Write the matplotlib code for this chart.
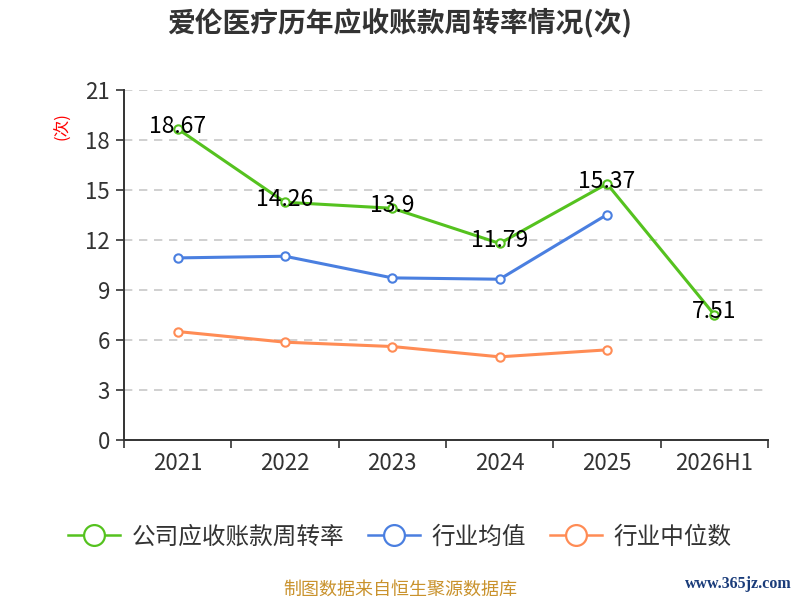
import matplotlib.pyplot as plt
from matplotlib.lines import Line2D
import numpy as np

plt.rcParams['font.family'] = ['Noto Sans CJK SC', 'DejaVu Sans']

# 数据
years = ['2021', '2022', '2023', '2024', '2025', '2026H1']
company = [18.67, 14.26, 13.9, 11.79, 15.37, 7.51]
ind_avg = [10.92, 11.02, 9.72, 9.64, 13.52]
ind_mid = [6.5, 5.86, 5.6, 4.98, 5.4]
yticks = [0, 3, 6, 9, 12, 15, 18, 21]

c_green = '#55c21f'
c_blue = '#4a7fe0'
c_orange = '#ff8c55'

fig = plt.figure(figsize=(8, 6), dpi=100)
ax = fig.add_axes([0.155, 0.267, 0.805, 0.583])

x = np.arange(len(years))
mk = dict(marker='o', markersize=6, markerfacecolor='white', markeredgewidth=1.5)
ax.plot(x, company, color=c_green, lw=2.2, markeredgecolor=c_green, zorder=3, **mk)
ax.plot(x[:len(ind_avg)], ind_avg, color=c_blue, lw=2.2, markeredgecolor=c_blue, zorder=3, **mk)
ax.plot(x[:len(ind_mid)], ind_mid, color=c_orange, lw=2.2, markeredgecolor=c_orange, zorder=3, **mk)

for xi, v in zip(x, company):
    ax.annotate(f'{v:g}', (xi, v), xytext=(0, 2), textcoords='offset points',
                ha='center', va='center', fontsize=16.5, color='black', zorder=4)

ax.set_xlim(-0.5, len(years) - 0.5)
ax.set_ylim(0, 21)
ax.set_yticks(yticks)
ax.set_xticks(x)
ax.set_xticklabels(years)
ax.set_xticks(np.arange(-0.5, len(years)), minor=True)
ax.tick_params(axis='x', which='major', length=0, pad=9, labelsize=16, labelcolor='#333333')
ax.tick_params(axis='x', which='minor', length=6, color='#333333', width=1.2)
ax.tick_params(axis='y', length=6, color='#333333', width=1.2, labelsize=16,
               labelcolor='#333333', pad=4)

ax.grid(axis='y', linestyle=(0, (5, 4)), color='#c8c8c8', lw=1.2)
ax.set_axisbelow(True)
for s in ['top', 'right']:
    ax.spines[s].set_visible(False)
for s in ['left', 'bottom']:
    ax.spines[s].set_color('#333333')
    ax.spines[s].set_linewidth(1.4)

fig.text(0.078, 0.79, '(次)', color='red', fontsize=12, rotation=90, ha='center', va='center')

fig.text(0.5, 0.962, '爱伦医疗历年应收账款周转率情况(次)', ha='center', va='center',
         fontsize=20, fontweight='bold', color='#333333')

handles = [Line2D([], [], color=c, lw=1.8, marker='o', markersize=15,
                  markerfacecolor='white', markeredgewidth=1.6, markeredgecolor=c)
           for c in [c_green, c_blue, c_orange]]
fig.legend(handles, ['公司应收账款周转率', '行业均值', '行业中位数'], loc='center',
           bbox_to_anchor=(0.5, 0.105), ncol=3, frameon=False, fontsize=17,
           handlelength=2.2, columnspacing=1.0, handletextpad=0.5,
           labelcolor='#333333')

fig.text(0.5, 0.017, '制图数据来自恒生聚源数据库', ha='center', va='center',
         fontsize=13, color='#c9922c')
fig.text(0.99, 0.027, 'www.365jz.com', ha='right', va='center', fontsize=11.5,
         color='#1a3c7a', family='Liberation Serif', fontweight='bold')

fig.savefig('out.png', dpi=100)
